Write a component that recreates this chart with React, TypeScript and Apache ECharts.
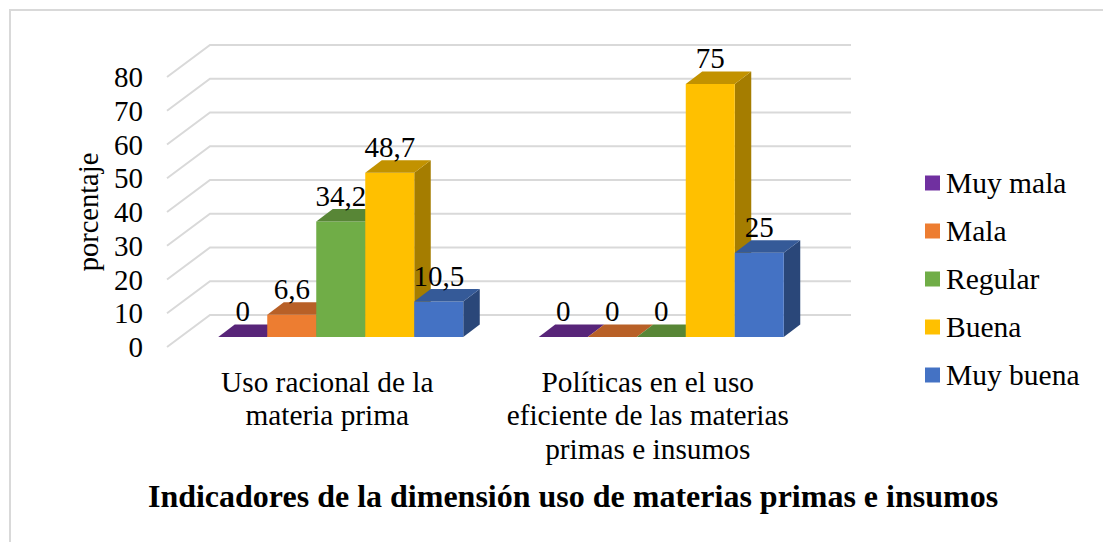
import React, { useEffect, useRef } from "react";
import * as echarts from "echarts";

const categories = [
  "Uso racional de la\nmateria prima",
  "Políticas en el uso\neficiente de las materias\nprimas e insumos",
];
const levels = ["Muy mala", "Mala", "Regular", "Buena", "Muy buena"];
const muyMala = [0, 0];
const mala = [6.6, 0];
const regular = [34.2, 0];
const buena = [48.7, 75];
const muyBuena = [10.5, 25];
const seriesValues = [muyMala, mala, regular, buena, muyBuena];
const frontColors = ["#7030A0", "#ED7D31", "#70AD47", "#FFC000", "#4472C4"];
const topColors = ["#582579", "#B86027", "#588636", "#C29200", "#355A98"];
const sideColors = ["#46205F", "#8F4A1C", "#43682A", "#A57D00", "#2A4779"];
const gridTicks = [0, 10, 20, 30, 40, 50, 60, 70, 80];

const FONT = '"Liberation Serif", "Times New Roman", serif';

// Projection of the 3D box: wall depth, floor inset of the bars, bar size.
const WALL_DX = 43;
const WALL_DY = -32;
const BAR_SHIFT_X = 13.5;
const BAR_SHIFT_Y = -10;
const BAR_W = 49;
const BAR_DX = 16.5;
const BAR_DY = -12.5;

function renderBar(seriesIndex: number) {
  return (params: any, api: any) => {
    const cat = api.value(0);
    const val = api.value(1);
    const [cx, y0] = api.coord([cat, 0]);
    const [, y1] = api.coord([cat, val]);
    const left = cx + BAR_SHIFT_X + (seriesIndex - 2.5) * BAR_W;
    const right = left + BAR_W;
    const bottom = y0 + BAR_SHIFT_Y;
    const top = y1 + BAR_SHIFT_Y;
    const children: any[] = [];
    if (val > 0) {
      children.push({
        type: "polygon",
        shape: {
          points: [
            [right, top],
            [right + BAR_DX, top + BAR_DY],
            [right + BAR_DX, bottom + BAR_DY],
            [right, bottom],
          ],
        },
        style: { fill: sideColors[seriesIndex] },
      });
      children.push({
        type: "polygon",
        shape: {
          points: [
            [left, bottom],
            [right, bottom],
            [right, top],
            [left, top],
          ],
        },
        style: { fill: frontColors[seriesIndex] },
      });
    }
    children.push({
      type: "polygon",
      shape: {
        points: [
          [left, top],
          [right, top],
          [right + BAR_DX, top + BAR_DY],
          [left + BAR_DX, top + BAR_DY],
        ],
      },
      style: { fill: topColors[seriesIndex] },
    });
    children.push({
      type: "text",
      z2: 100,
      style: {
        text: String(val).replace(".", ","),
        x: left + BAR_W / 2,
        y: top - 26,
        align: "center",
        verticalAlign: "middle",
        font: `29px ${FONT}`,
        fill: "#000000",
      },
    });
    return { type: "group", children };
  };
}

function renderWall(params: any, api: any) {
  const [, y] = api.coord([0, api.value(0)]);
  const { x, width } = params.coordSys;
  return {
    type: "polyline",
    shape: {
      points: [
        [x, y],
        [x + WALL_DX, y + WALL_DY],
        [x + width + WALL_DX, y + WALL_DY],
      ],
    },
    style: { fill: "none", stroke: "#D9D9D9", lineWidth: 2 },
  };
}

export default function App() {
  const ref = useRef<HTMLDivElement>(null);

  useEffect(() => {
    document.body.style.margin = "0";
    const chart = echarts.init(ref.current!, undefined, { renderer: "svg" });
    chart.setOption({
      animation: false,
      backgroundColor: "#FFFFFF",
      textStyle: { fontFamily: FONT },
      title: {
        text: "Indicadores de la dimensión uso de materias primas e insumos",
        left: 574,
        top: 475,
        textAlign: "center",
        textStyle: { fontFamily: FONT, fontSize: 32, fontWeight: "bold", color: "#000000" },
      },
      legend: {
        orient: "vertical",
        left: 925,
        top: 168,
        padding: 0,
        itemWidth: 15,
        itemHeight: 15,
        itemGap: 18,
        icon: "rect",
        data: levels,
        textStyle: {
          fontFamily: FONT,
          fontSize: 29.5,
          lineHeight: 30,
          color: "#000000",
          padding: [0, 0, 0, 1],
        },
      },
      grid: { left: 167, top: 77, width: 641, height: 270 },
      xAxis: {
        type: "category",
        data: categories,
        axisLine: { show: false },
        axisTick: { show: false },
        axisLabel: {
          interval: 0,
          margin: 18,
          fontFamily: FONT,
          fontSize: 29.3,
          lineHeight: 33.5,
          color: "#000000",
        },
      },
      yAxis: {
        type: "value",
        min: 0,
        max: 80,
        interval: 10,
        name: "porcentaje",
        nameLocation: "middle",
        nameGap: 64,
        nameTextStyle: { fontFamily: FONT, fontSize: 28.5, color: "#000000" },
        axisLine: { show: false },
        axisTick: { show: false },
        splitLine: { show: false },
        axisLabel: { margin: 24, fontFamily: FONT, fontSize: 29, color: "#000000" },
      },
      graphic: [
        {
          type: "rect",
          shape: { x: 10, y: 10, width: 1200, height: 600 },
          style: { fill: "none", stroke: "#D9D9D9", lineWidth: 2 },
          silent: true,
        },
      ],
      series: [
        {
          type: "custom",
          name: "Pared",
          renderItem: renderWall,
          data: gridTicks.map((t) => [t]),
          encode: { y: 0 },
          silent: true,
          z: 1,
        },
        ...levels.map((name, i) => ({
          type: "custom",
          name,
          renderItem: renderBar(i),
          itemStyle: { color: frontColors[i] },
          data: seriesValues[i].map((v, c) => [c, v]),
          encode: { x: 0, y: 1 },
          z: 2,
        })),
      ],
    });
    // The title is centred on the text block below the plot, slightly left of the page centre.
    chart.setOption({ title: { left: 568 } });
    return () => chart.dispose();
  }, []);

  return <div ref={ref} style={{ width: 1103, height: 542 }} />;
}
